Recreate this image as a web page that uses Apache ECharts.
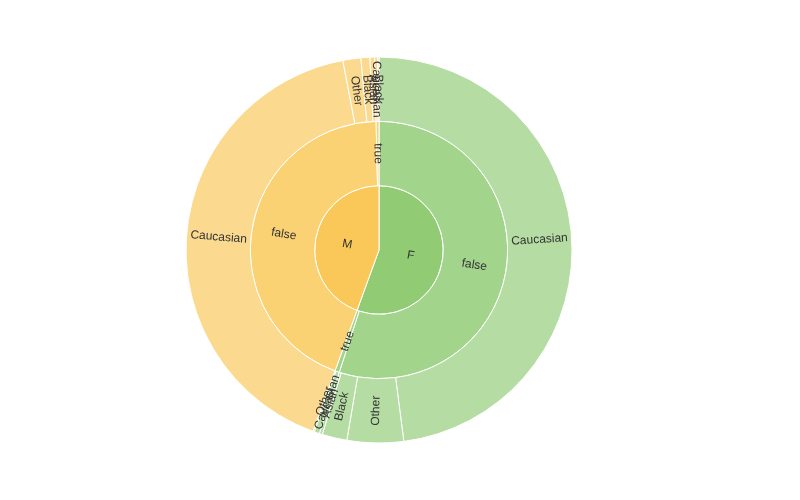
<!DOCTYPE html>
<html>
<head>
<meta charset="utf-8">
<script src="https://cdn.jsdelivr.net/npm/echarts@6/dist/echarts.min.js"></script>
<style>
html,body{margin:0;padding:0;background:#fff;}
#chart{width:800px;height:500px;}
</style>
</head>
<body>
<div id="chart"></div>
<script>
const genders = ['F', 'M'];
const flags = ['false', 'true'];
const fFalseRaces = ['Caucasian', 'Other', 'Black', 'Asian'];
const fFalseValues = [1726, 170, 75, 9];
const fTrueRaces = ['Caucasian', 'Other'];
const fTrueValues = [16, 4];
const mFalseRaces = ['Caucasian', 'Other', 'Black', 'Asian'];
const mFalseValues = [1492, 54, 27, 14];
const mTrueRaces = ['Caucasian', 'Black'];
const mTrueValues = [9, 4];

function leaves(names, values) {
  return names.map((n, i) => ({ name: n, value: values[i] }));
}
const data = [
  { name: genders[0], children: [
    { name: flags[0], children: leaves(fFalseRaces, fFalseValues) },
    { name: flags[1], children: leaves(fTrueRaces, fTrueValues) }
  ]},
  { name: genders[1], children: [
    { name: flags[0], children: leaves(mFalseRaces, mFalseValues) },
    { name: flags[1], children: leaves(mTrueRaces, mTrueValues) }
  ]}
];

const chart = echarts.init(document.getElementById('chart'), null, { renderer: 'canvas' });
chart.setOption({
  animation: false,
  color: ['#91cc75', '#fac858'],
  series: [{
    type: 'sunburst',
    center: [379, 250],
    radius: [0, 193],
    data: data,
    label: { fontFamily: 'Liberation Sans', fontSize: 12, color: '#333' }
  }]
});
</script>
</body>
</html>
